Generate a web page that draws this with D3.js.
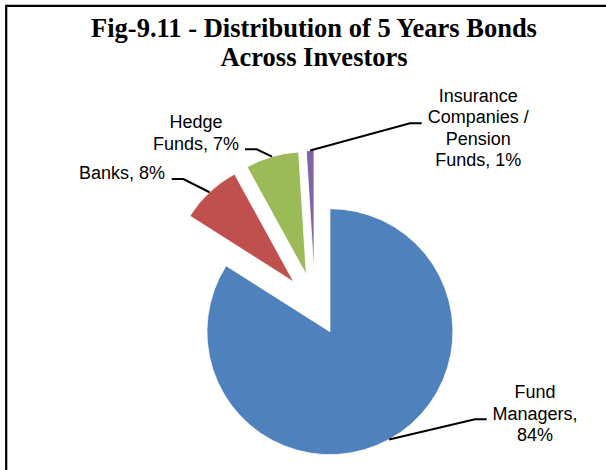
<!DOCTYPE html>
<html>
<head>
<meta charset="utf-8">
<script src="https://cdn.jsdelivr.net/npm/d3@7/dist/d3.min.js"></script>
<style>
  html, body { margin: 0; padding: 0; background: #fff; }
  svg { display: block; }
</style>
</head>
<body>
<svg id="chart" width="606" height="470"></svg>
<script>
// Investor groups, their share of 5-year bonds (%), and slice colours
const categories = ["Fund Managers", "Banks", "Hedge Funds", "Insurance Companies / Pension Funds"];
const shares = [84, 8, 7, 1];
const colors = ["#4F81BD", "#C0504D", "#9BBB59", "#8064A2"];
// Label text lines per slice; {v} is replaced by the slice's value
const labelLines = [
  ["Fund", "Managers,", "{v}%"],
  ["Banks, {v}%"],
  ["Hedge", "Funds, {v}%"],
  ["Insurance", "Companies /", "Pension", "Funds, {v}%"]
];
const titleLines = ["Fig-9.11 - Distribution of 5 Years Bonds", "Across Investors"];

const svg = d3.select("#chart");

// Frame (the outer border runs past the right and bottom edges)
svg.append("path")
  .attr("d", "M6.2,480 V5.8 H620")
  .attr("fill", "none")
  .attr("stroke", "#000")
  .attr("stroke-width", 2.2);

// Title
svg.append("g").selectAll("text")
  .data(titleLines)
  .join("text")
  .attr("x", 314)
  .attr("y", (d, i) => 37 + i * 29)
  .attr("text-anchor", "middle")
  .attr("font-family", "'Liberation Serif', 'Times New Roman', serif")
  .attr("font-weight", "bold")
  .attr("font-size", 26.5)
  .attr("fill", "#000")
  .text(d => d);

// Pie geometry
const cx = 315, cy = 304.5, radius = 123, explode = 31;
const pie = d3.pie().sort(null).value(d => d).startAngle(0).endAngle(2 * Math.PI);
const arcs = pie(shares);
const arc = d3.arc().innerRadius(0).outerRadius(radius);

function offset(a) {
  const mid = (a.startAngle + a.endAngle) / 2;
  return [explode * Math.sin(mid), -explode * Math.cos(mid)];
}

const g = svg.append("g").attr("transform", `translate(${cx},${cy})`);
g.selectAll("path.slice")
  .data(arcs)
  .join("path")
  .attr("class", "slice")
  .attr("transform", d => { const [dx, dy] = offset(d); return `translate(${dx},${dy})`; })
  .attr("d", arc)
  .attr("fill", (d, i) => colors[i])
  .attr("stroke", "#fff")
  .attr("stroke-width", 0.8);

// Label placement: elbow of the leader, end of the leader, text centre x, first baseline
const labelLayout = [
  { elbow: [475, 419.3], end: [486.7, 419.3], tx: 535, ty: 398.3 },
  { elbow: [183.3, 179], end: [171.7, 179], tx: 122, ty: 179 },
  { elbow: [256.7, 149.3], end: [245, 149.3], tx: 196, ty: 128.3 },
  { elbow: [410, 123.3], end: [421.7, 123.3], tx: 478.3, ty: 101.7 }
];
const lineHeight = 21.4;

const labels = svg.append("g");
arcs.forEach((a, i) => {
  const [dx, dy] = offset(a);
  const mid = (a.startAngle + a.endAngle) / 2;
  const start = [cx + dx + radius * Math.sin(mid), cy + dy - radius * Math.cos(mid)];
  const L = labelLayout[i];
  labels.append("path")
    .attr("d", d3.line()([start, L.elbow, L.end]))
    .attr("fill", "none")
    .attr("stroke", "#000")
    .attr("stroke-width", 2);
  labels.append("g").selectAll("text")
    .data(labelLines[i].map(s => s.replace("{v}", shares[i])))
    .join("text")
    .attr("x", L.tx)
    .attr("y", (d, j) => L.ty + j * lineHeight)
    .attr("text-anchor", "middle")
    .attr("font-family", "'Liberation Sans', Arial, sans-serif")
    .attr("font-size", 18)
    .attr("fill", "#000")
    .text(d => d);
});
</script>
</body>
</html>
